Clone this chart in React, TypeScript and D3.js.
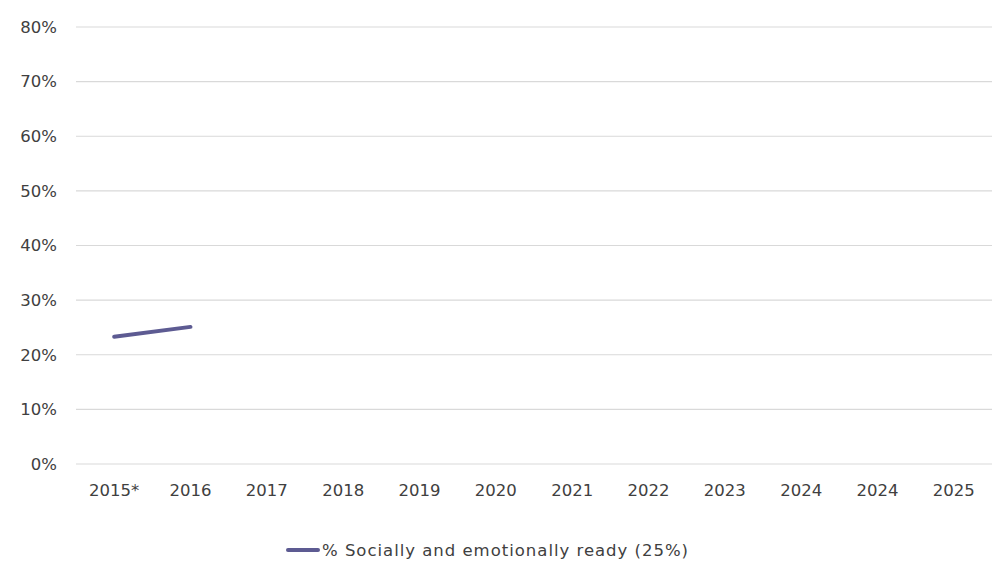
import React from "react";
import * as d3 from "d3";

const categories = ["2015*", "2016", "2017", "2018", "2019", "2020", "2021", "2022", "2023", "2024", "2024 ", "2025"];
const seriesValues: (number | null)[] = [23.3, 25.1, null, null, null, null, null, null, null, null, null, null];
const yTicks = [0, 10, 20, 30, 40, 50, 60, 70, 80];
const seriesName = "% Socially and emotionally ready (25%)";

export default function App() {
  const W = 1000, H = 577;
  const left = 76, right = 992, top = 27, bottom = 464;
  const x = d3.scaleBand<string>().domain(categories).range([left, right]);
  const y = d3.scaleLinear().domain([0, 80]).range([bottom, top]);
  const line = d3
    .line<number | null>()
    .defined((d) => d != null)
    .x((_, i) => (x(categories[i]) as number) + x.bandwidth() / 2)
    .y((d) => y(d as number));
  const font = "'DejaVu Sans', sans-serif";
  const color = "#5d5b92";
  const textColor = "#404040";
  const fs = 16.5;
  return (
    <svg width={W} height={H} style={{ position: "absolute", left: 0, top: 0 }} fontFamily={font}>
      <rect width={W} height={H} fill="#fff" />
      {yTicks.map((t) => (
        <g key={t}>
          <line x1={left} x2={right} y1={y(t)} y2={y(t)} stroke="#d9d9d9" strokeWidth={1.2} />
          <text x={57} y={y(t)} dy="0.35em" textAnchor="end" fontSize={fs} fill={textColor}>
            {t}%
          </text>
        </g>
      ))}
      {categories.map((c) => (
        <text
          key={c}
          x={(x(c) as number) + x.bandwidth() / 2}
          y={496}
          textAnchor="middle"
          fontSize={fs}
          fill={textColor}
        >
          {c.trim()}
        </text>
      ))}
      <path d={line(seriesValues) || ""} fill="none" stroke={color} strokeWidth={4} strokeLinecap="round" />
      <line x1={288} x2={318} y1={550} y2={550} stroke={color} strokeWidth={4} strokeLinecap="round" />
      <text x={322} y={550} dy="0.35em" fontSize={fs} fill={textColor} textLength={366} lengthAdjust="spacing">
        {seriesName}
      </text>
    </svg>
  );
}
